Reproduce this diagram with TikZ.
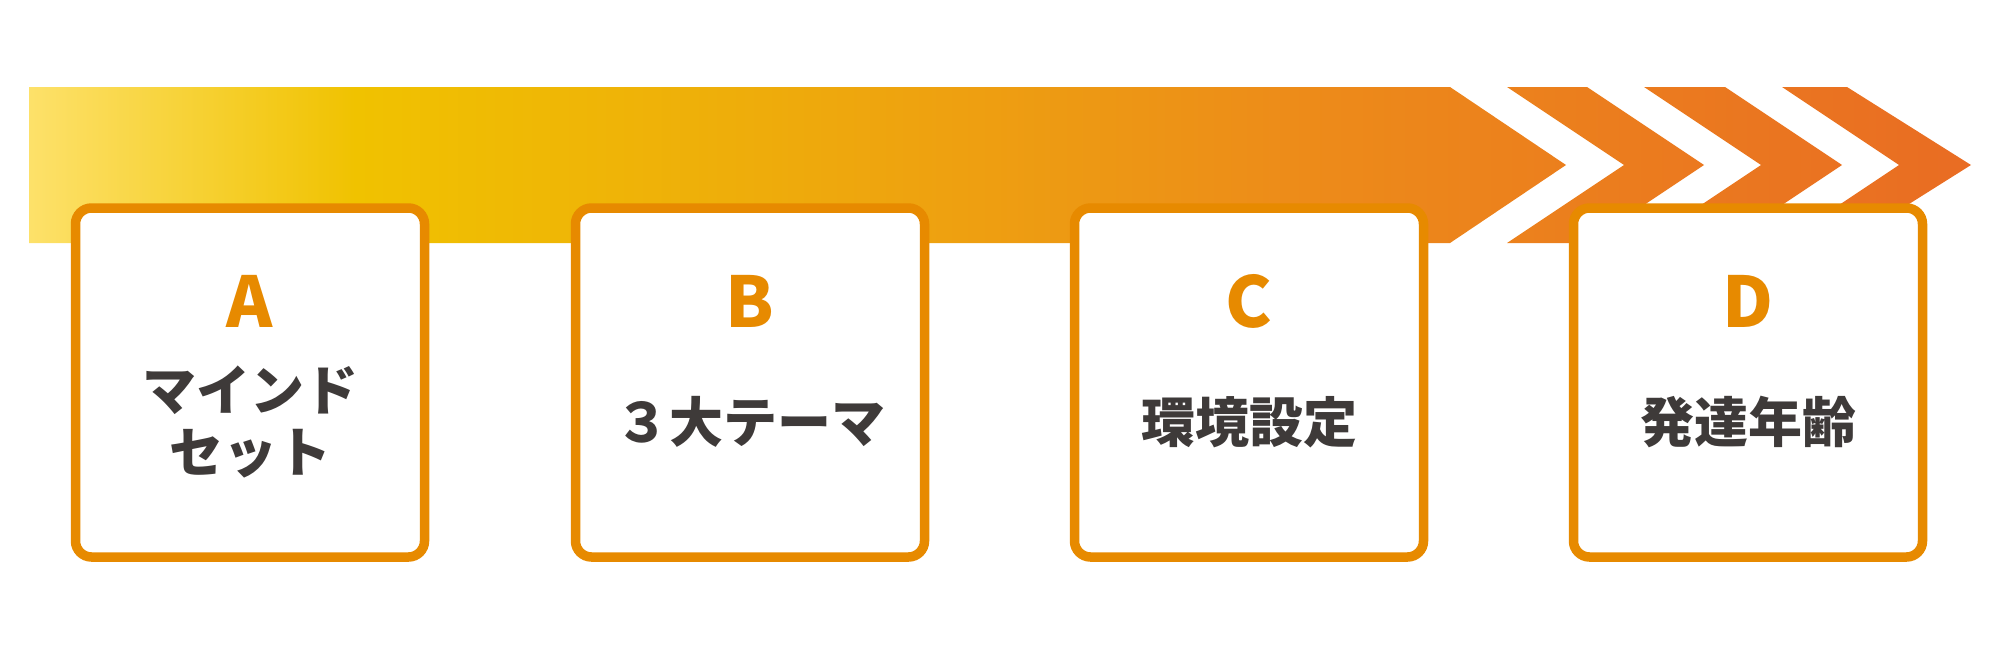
\documentclass[tikz,border=0pt]{standalone}
\usepackage{fontspec}
\newfontfamily\jpfont{Noto Sans CJK JP}
\usetikzlibrary{positioning}

\definecolor{boxorange}{HTML}{E78A00}
\definecolor{textgray}{HTML}{3E3A39}
\definecolor{bannerA}{HTML}{FDE16A}
\definecolor{bannerB}{HTML}{F0C200}
\definecolor{bannerC}{HTML}{EEAC0B}
\definecolor{bannerD}{HTML}{ED8C19}
\definecolor{bannerE}{HTML}{E96C23}

\pgfdeclarehorizontalshading{bannershade}{100bp}{color(0bp)=(bannerA); color(25bp)=(bannerA);
  color(33.4bp)=(bannerB); color(43.9bp)=(bannerC); color(57.4bp)=(bannerD);
  color(75bp)=(bannerE); color(100bp)=(bannerE)}

\begin{document}
\begin{tikzpicture}[x=1pt,y=-1pt,
  stepbox/.style={draw=boxorange,line width=9.5pt,fill=white,rounded corners=16pt,
    minimum width=349pt,minimum height=349pt,inner sep=0pt},
  letter/.style={text=boxorange,inner sep=0pt,font=\jpfont\bfseries\fontsize{70}{84}\selectfont},
  boxtext/.style={text=textgray,inner sep=0pt,align=center,font=\jpfont\bfseries\fontsize{54}{62}\selectfont}]
  \useasboundingbox (0,0) rectangle (2000,651);
  % banner with chevrons
  \shade[shading=bannershade]
    (29,87) -- (1450,87) -- (1566,165) -- (1450,243) -- (29,243) -- cycle
    (1507,87) -- (1587,87) -- (1704,165) -- (1587,243) -- (1507,243) -- (1624,165) -- cycle
    (1644,87) -- (1725,87) -- (1842,165) -- (1725,243) -- (1644,243) -- (1761,165) -- cycle
    (1782,87) -- (1847,87) -- (1971,165) -- (1847,243) -- (1782,243) -- (1899,165) -- cycle;
  % steps
  \foreach \n/\cx/\tx in {A/250/{マインド\\セット},B/750/{３大テーマ},C/1249/{環境設定},D/1748/{発達年齢}}{
    \node[stepbox] (box\n) at (\cx,382.5) {};
    \node[letter] (let\n) at ([yshift=81pt]box\n.center) {\n};
    \node[boxtext] (txt\n) at ([yshift=-39.5pt]box\n.center) {\tx};
  }
\end{tikzpicture}
\end{document}
